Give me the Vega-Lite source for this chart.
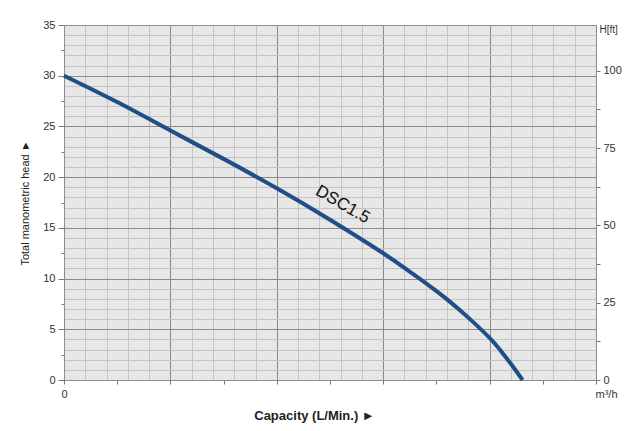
{
  "$schema": "https://vega.github.io/schema/vega-lite/v6.json",
  "width": 532,
  "height": 355,
  "autosize": {"type": "none"},
  "padding": {"left": 64, "top": 25, "right": 38, "bottom": 51},
  "background": "white",
  "config": {
    "view": {"fill": "#e7e7e7", "stroke": "#8a8a8a", "strokeWidth": 1},
    "font": "Liberation Sans",
    "axis": {"labelFont": "Liberation Sans", "titleFont": "Liberation Sans"}
  },
  "datasets": {
    "curve": [
      {"q": 0, "h": 30.0},
      {"q": 2.5, "h": 27.4},
      {"q": 5, "h": 24.6},
      {"q": 7.5, "h": 21.8},
      {"q": 10, "h": 18.9},
      {"q": 12.5, "h": 15.8},
      {"q": 15, "h": 12.5},
      {"q": 16, "h": 11.05},
      {"q": 17, "h": 9.55},
      {"q": 18, "h": 7.95},
      {"q": 19, "h": 6.15},
      {"q": 20, "h": 4.15},
      {"q": 20.5, "h": 2.95},
      {"q": 21, "h": 1.6},
      {"q": 21.55, "h": 0}
    ],
    "label": [{"q": 13.1, "h": 17.3, "name": "DSC1.5"}],
    "ft": [{"q": 0, "hft": 0}, {"q": 25, "hft": 114.83}]
  },
  "resolve": {"scale": {"y": "independent"}},
  "layer": [
    {
      "resolve": {"axis": {"x": "independent", "y": "independent"}},
      "layer": [
        {
          "data": {"name": "curve"},
          "mark": {"type": "point", "opacity": 0},
          "encoding": {
            "x": {"field": "q", "type": "quantitative", "scale": {"domain": [0, 25], "nice": false, "zero": false},
              "axis": {"orient": "bottom", "values": [0,1,2,3,4,5,6,7,8,9,10,11,12,13,14,15,16,17,18,19,20,21,22,23,24,25],
                "grid": true, "gridColor": "#c4c4c4", "gridWidth": 1, "labels": false, "ticks": false, "domain": false, "title": null}},
            "y": {"field": "h", "type": "quantitative", "scale": {"domain": [0, 35], "nice": false, "zero": true},
              "axis": {"orient": "left", "values": [0,1,2,3,4,5,6,7,8,9,10,11,12,13,14,15,16,17,18,19,20,21,22,23,24,25,26,27,28,29,30,31,32,33,34,35],
                "grid": true, "gridColor": "#c4c4c4", "gridWidth": 1, "labels": false, "ticks": false, "domain": false, "title": null}}
          }
        },
        {
          "data": {"name": "curve"},
          "mark": {"type": "line", "color": "#1f4f86", "strokeWidth": 4, "interpolate": "natural"},
          "encoding": {
            "x": {"field": "q", "type": "quantitative",
              "axis": {"orient": "bottom", "values": [0,2.5,5,7.5,10,12.5,15,17.5,20,22.5,25],
                "grid": true, "gridColor": {"condition": {"test": "datum.value % 5 == 0", "value": "#8c8c8c"}, "value": "transparent"},
                "gridWidth": 1,
                "labelExpr": "datum.value == 0 ? '0' : (datum.value == 25 ? 'm³/h' : '')",
                "labelAlign": {"condition": {"test": "datum.value == 25", "value": "left"}, "value": "center"},
                "labelOffset": {"condition": {"test": "datum.value == 25", "value": -1}, "value": 0},
                "labelFontSize": 11, "labelColor": "#333333", "labelPadding": 4,
                "tickSize": 4, "tickColor": "#777777", "domain": true, "domainColor": "#8c8c8c",
                "title": "Capacity (L/Min.)  ►", "titleFontSize": 13, "titleFontWeight": "bold", "titleColor": "#222222",
                "titleX": 250, "titleY": 35, "titleAnchor": "middle", "titleBaseline": "middle"}},
            "y": {"field": "h", "type": "quantitative",
              "axis": {"orient": "left", "values": [0,2.5,5,7.5,10,12.5,15,17.5,20,22.5,25,27.5,30,32.5,35],
                "grid": true, "gridColor": {"condition": {"test": "datum.value % 5 == 0", "value": "#8c8c8c"}, "value": "transparent"},
                "gridWidth": 1,
                "labelExpr": "datum.value % 5 == 0 ? datum.label : ''",
                "labelFontSize": 11, "labelColor": "#333333", "labelPadding": 3,
                "tickSize": {"condition": {"test": "datum.value % 5 == 0", "value": 6}, "value": 3},
                "tickColor": "#777777", "domainColor": "#8c8c8c",
                "title": "Total manometric head ►", "titleFontSize": 11, "titleFontWeight": "normal", "titleColor": "#222222",
                "titlePadding": 12}}
          }
        },
        {
          "data": {"name": "label"},
          "mark": {"type": "text", "angle": 30, "fontSize": 17, "color": "#111111", "font": "Liberation Sans"},
          "encoding": {
            "x": {"field": "q", "type": "quantitative", "axis": null},
            "y": {"field": "h", "type": "quantitative", "axis": null},
            "text": {"field": "name"}
          }
        }
      ]
    },
    {
      "data": {"name": "ft"},
      "mark": {"type": "point", "opacity": 0},
      "encoding": {
        "x": {"field": "q", "type": "quantitative", "axis": null},
        "y": {"field": "hft", "type": "quantitative", "scale": {"domain": [0, 114.83], "nice": false, "zero": true},
          "axis": {"orient": "right", "values": [0, 12.5, 25, 37.5, 50, 62.5, 75, 87.5, 100],
            "grid": false,
            "labelExpr": "datum.value % 25 == 0 ? datum.label : ''",
            "labelFontSize": 11, "labelColor": "#333333", "labelPadding": 3,
            "tickSize": 4, "tickColor": "#777777", "domainColor": "#8c8c8c",
            "title": "H[ft]", "titleAngle": 0, "titleFontSize": 10, "titleFontWeight": "normal", "titleColor": "#333333",
            "titleX": 3, "titleY": 4, "titleAlign": "left", "titleBaseline": "middle"}}
      }
    }
  ]
}
